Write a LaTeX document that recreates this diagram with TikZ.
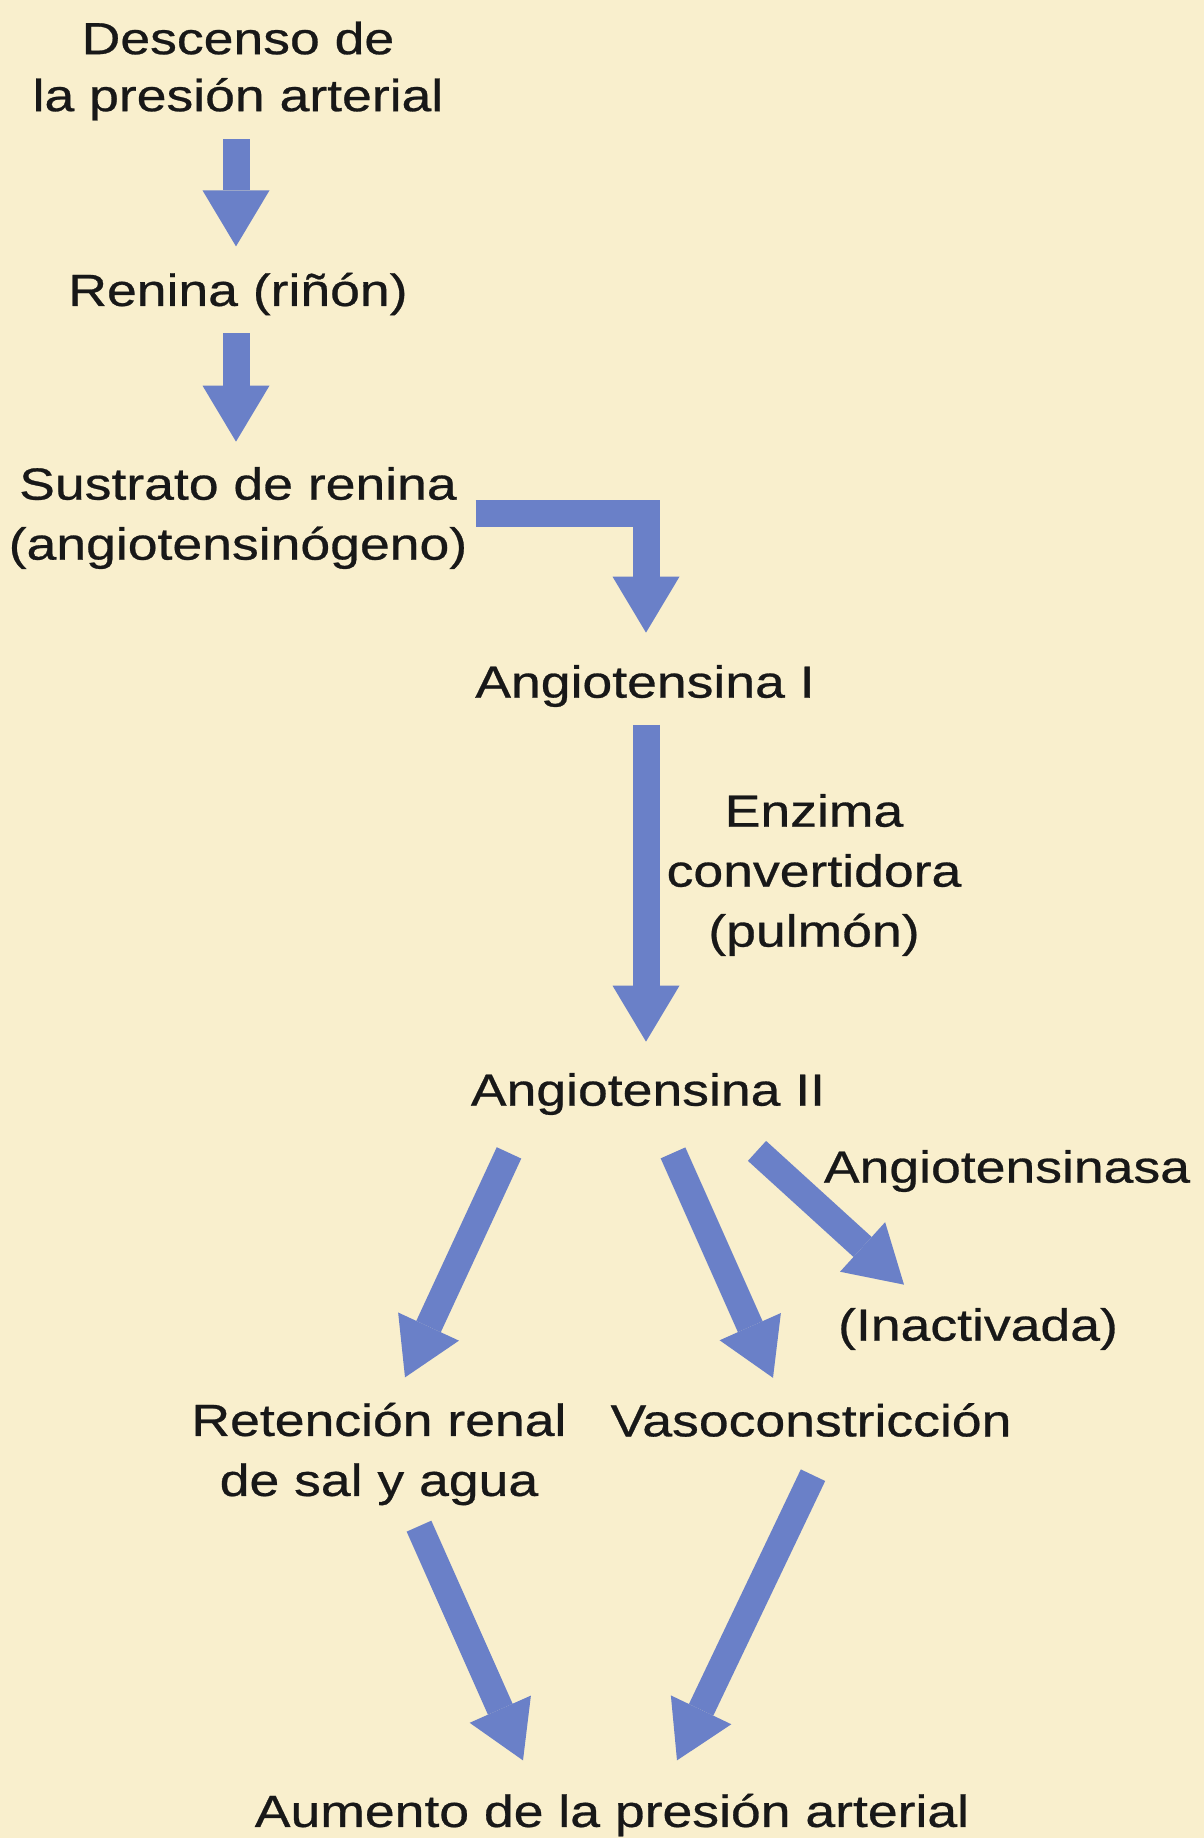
\documentclass[tikz,border=0pt]{standalone}
\usepackage{fontspec}
\setmainfont{Liberation Sans}[FakeStretch=1.19,FakeBold=0.6]
\usetikzlibrary{arrows.meta,calc}
\definecolor{PaperCream}{RGB}{249,239,205}
\definecolor{FlowBlue}{RGB}{106,128,200}
\definecolor{InkBlack}{RGB}{24,24,24}
\tikzset{
  flowtext/.style={align=center, inner sep=0pt, text=InkBlack,
    font=\fontsize{22.5}{30}\selectfont},
  fatarrow/.style={-{Triangle[width=33.5pt,length=28pt,line width=0pt]},
    line width=13.5pt, draw=FlowBlue}
}

\begin{document}
\begin{tikzpicture}[x=0.5pt,y=-0.5pt]
  \useasboundingbox (0,0) rectangle (1204,1838);
  \fill[PaperCream] (0,0) rectangle (1204,1838);

  \node[flowtext] (desc) at (238,71) {Descenso de\\[-1.5pt]la presión arterial};
  \node[flowtext] (renina) at (238,294) {Renina (riñón)};
  \node[flowtext] (sustrato) at (238,518) {Sustrato de renina\\(angiotensinógeno)};
  \node[flowtext] (angI) at (645,686) {Angiotensina I};
  \node[flowtext] (enzima) at (814,875) {Enzima\\convertidora\\(pulmón)};
  \node[flowtext] (angII) at (648,1094) {Angiotensina II};
  \node[flowtext] (angasa) at (1007,1171) {Angiotensinasa};
  \node[flowtext] (inact) at (978,1329) {(Inactivada)};
  \node[flowtext] (reten) at (379,1454) {Retención renal\\de sal y agua};
  \node[flowtext] (vaso) at (811,1420) {Vasoconstricción};
  \node[flowtext] (aumento) at (612,1815) {Aumento de la presión arterial};

  \draw[fatarrow] ($(desc.south)+(-2,18.5)$) -- ($(renina.north)+(-2,-26)$);
  \draw[fatarrow] ($(renina.south)+(-2,17.5)$) -- ($(sustrato.north)+(-2,-25)$);
  \draw[fatarrow] ($(sustrato.east)+(8,-5)$) -| ($(angI.north)+(1,-32)$);
  \draw[fatarrow] ($(angI.south)+(1,17.5)$) -- ($(angII.north)+(-2,-31)$);
  \draw[fatarrow] ($(angII.south)+(-139,37.5)$) -- ($(reten.north)+(26,-25)$);
  \draw[fatarrow] ($(angII.south)+(25,37.5)$) -- ($(vaso.north)+(-38,-25)$);
  \draw[fatarrow] ($(angII.south)+(109,35.5)$) -- ($(inact.north)+(-74,-23)$);
  \draw[fatarrow] ($(reten.south)+(40,20.5)$) -- ($(aumento.north)+(-89,-33)$);
  \draw[fatarrow] ($(vaso.south)+(2,38)$) -- ($(aumento.north)+(65,-33)$);
\end{tikzpicture}
\end{document}
